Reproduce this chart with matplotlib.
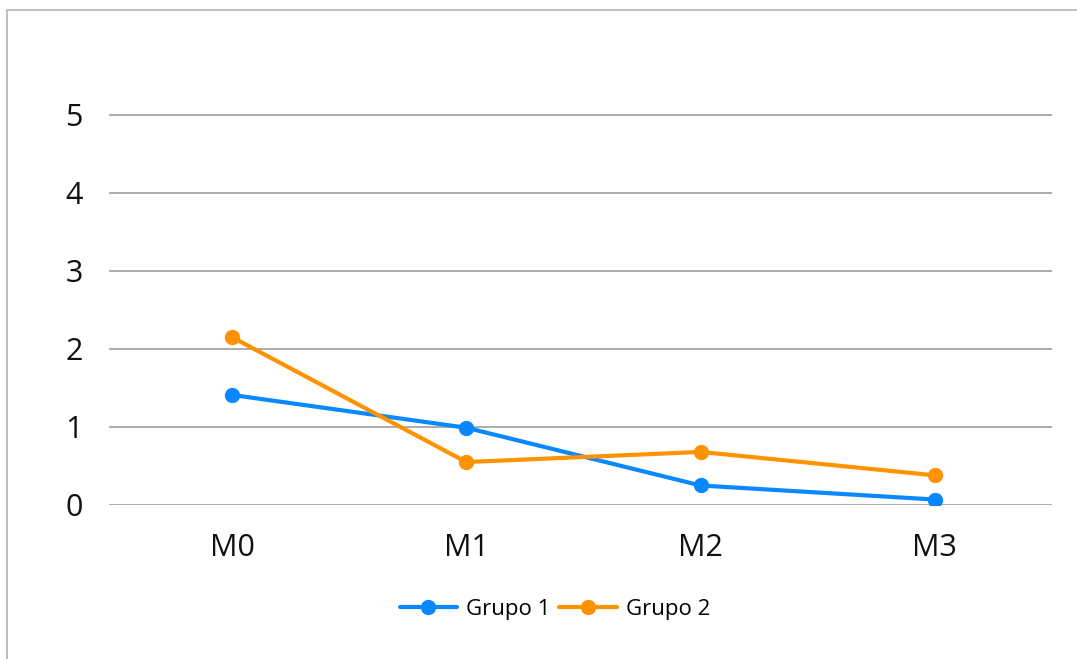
import matplotlib
matplotlib.use("Agg")
import matplotlib.pyplot as plt
from matplotlib.patches import Rectangle

# Data
categories = ["M0", "M1", "M2", "M3"]
grupo1 = [1.41, 0.99, 0.25, 0.07]
grupo2 = [2.15, 0.55, 0.68, 0.38]
y_ticks = [0, 1, 2, 3, 4, 5]
series_names = ["Grupo 1", "Grupo 2"]

blue = "#0A88FF"
orange = "#FF9200"
grid_color = "#A6A6A6"

plt.rcParams["font.family"] = ["Open Sans", "DejaVu Sans"]

W, H = 1077, 659
fig = plt.figure(figsize=(W / 100, H / 100), dpi=100)

# outer chart frame (left and top edges visible)
fig.patches.append(Rectangle((7 / W, -0.1), 1.2, 1 - 10 / H + 0.1,
                             transform=fig.transFigure, fill=False,
                             edgecolor="#B4B4B4", linewidth=1.2))

# axes geometry in pixels
x_left, x_right = 109, 1052
y_zero, unit = 505, 78.06
y_top_val = 5.5
ax = fig.add_axes([x_left / W, 1 - y_zero / H,
                   (x_right - x_left) / W, y_top_val * unit / H])

xs = list(range(len(categories)))
step = 234.3
ax.set_xlim((x_left - 232) / step, (x_right - 232) / step)
ax.set_ylim(0, y_top_val)

for vals, col, name in zip([grupo1, grupo2], [blue, orange], series_names):
    ax.plot(xs, vals, color=col, linewidth=3, marker="o", markersize=10,
            label=name, solid_capstyle="round", zorder=3)

ax.set_yticks(y_ticks)
ax.set_xticks(xs)
ax.set_xticklabels(categories)
ax.tick_params(axis="y", length=0, pad=19, labelsize=22, labelcolor="#111111")
ax.tick_params(axis="x", length=0, pad=20, labelsize=22, labelcolor="#111111")
ax.grid(axis="y", color=grid_color, linewidth=1.3)
ax.set_axisbelow(True)
for s in ax.spines.values():
    s.set_visible(False)

fig.legend(loc="center", bbox_to_anchor=(555 / W, 1 - 609 / H), ncol=2,
           frameon=False, fontsize=16, handlelength=2.6, handletextpad=0.4,
           columnspacing=0.4)

fig.savefig("out.png", dpi=100)
